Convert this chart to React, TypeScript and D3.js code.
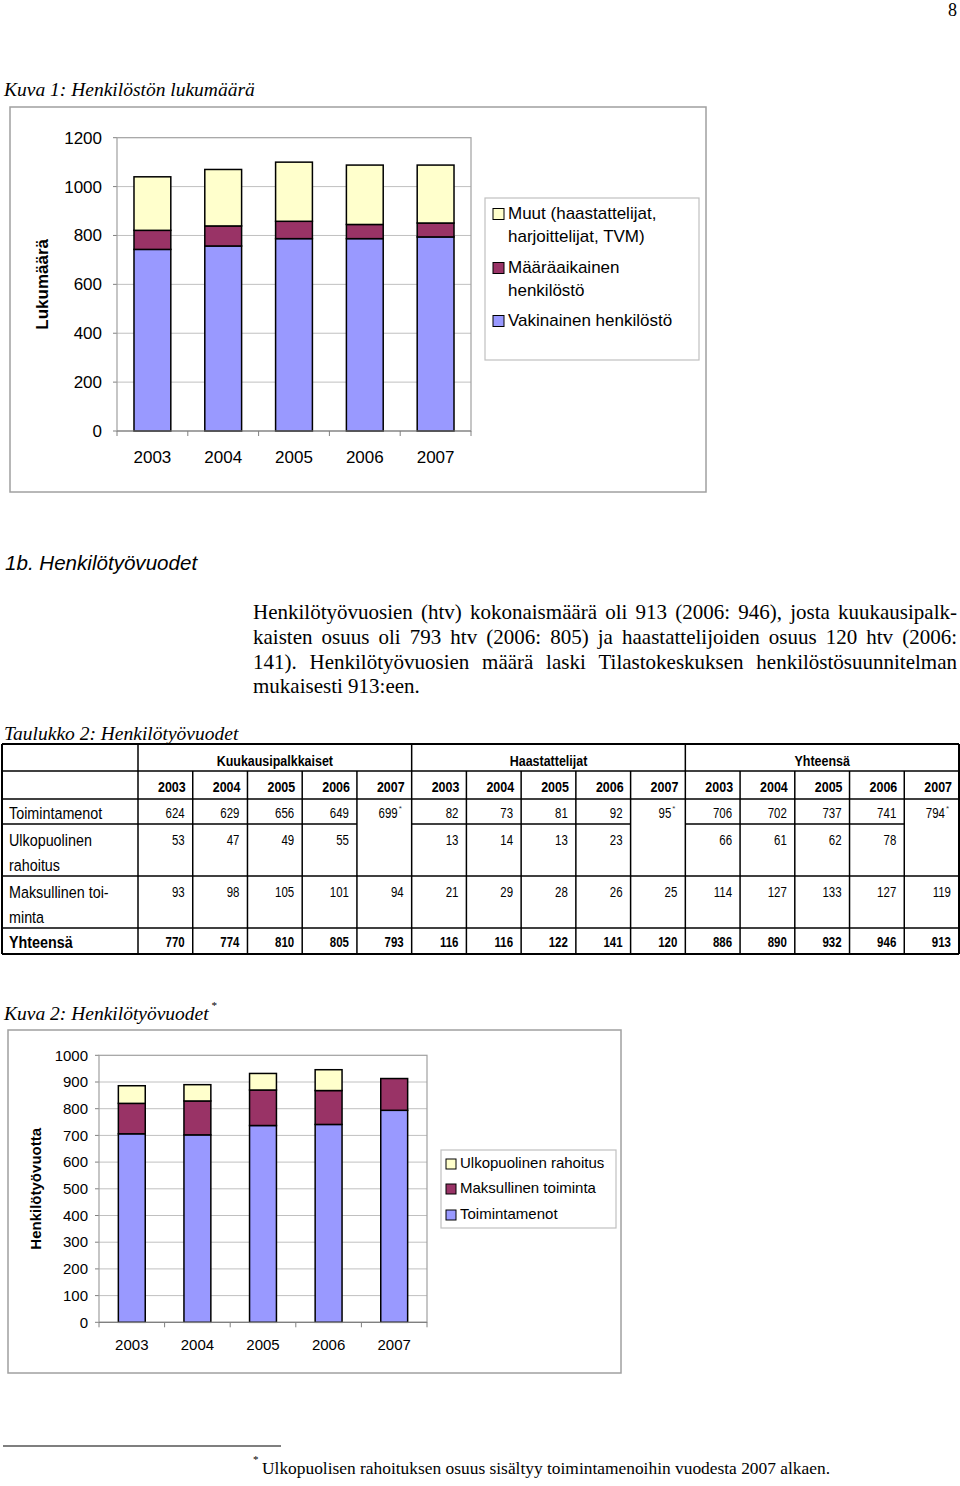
import React from "react";
import * as d3 from "d3";

const years = ["2003", "2004", "2005", "2006", "2007"];

// Kuva 1
const vakinainen = [743, 757, 787, 787, 794];
const maaraaikainen = [78, 82, 71, 58, 57];
const muut = [219, 231, 242, 243, 237];
const ticks1 = [0, 200, 400, 600, 800, 1000, 1200];

// Kuva 2 (from table)
const toimintamenot = [706, 702, 737, 741, 794];
const maksullinen = [114, 127, 133, 127, 119];
const ulkopuolinen = [66, 61, 62, 78, 0];
const ticks2 = [0, 100, 200, 300, 400, 500, 600, 700, 800, 900, 1000];

// Taulukko 2
const groupNames = ["Kuukausipalkkaiset", "Haastattelijat", "Yhteensä"];
const rowLabels = [["Toimintamenot"], ["Ulkopuolinen", "rahoitus"], ["Maksullinen toi-", "minta"], ["Yhteensä"]];
const kuukausi = [
  ["624", "629", "656", "649", "699*"],
  ["53", "47", "49", "55", ""],
  ["93", "98", "105", "101", "94"],
  ["770", "774", "810", "805", "793"],
];
const haast = [
  ["82", "73", "81", "92", "95*"],
  ["13", "14", "13", "23", ""],
  ["21", "29", "28", "26", "25"],
  ["116", "116", "122", "141", "120"],
];
const yhteensa = [
  ["706", "702", "737", "741", "794*"],
  ["66", "61", "62", "78", ""],
  ["114", "127", "133", "127", "119"],
  ["886", "890", "932", "946", "913"],
];

const paraLines = [
  "Henkilötyövuosien (htv) kokonaismäärä oli 913 (2006: 946), josta kuukausipalk-",
  "kaisten osuus oli 793 htv (2006: 805) ja haastattelijoiden osuus 120 htv (2006:",
  "141). Henkilötyövuosien määrä laski Tilastokeskuksen henkilöstösuunnitelman",
  "mukaisesti 913:een.",
];

const COL_BLUE = "#9999FF";
const COL_MAROON = "#993366";
const COL_YELLOW = "#FFFFCC";
const SANS = "'Liberation Sans', Arial, sans-serif";
const SERIF = "'Liberation Serif', 'Times New Roman', serif";

let _ctx: CanvasRenderingContext2D | null = null;
function measure(text: string, font: string): number {
  if (!_ctx) _ctx = document.createElement("canvas").getContext("2d");
  if (!_ctx) return text.length * 9;
  _ctx.font = font;
  return _ctx.measureText(text).width;
}

type ChartProps = {
  x0: number; x1: number; yTop: number; yBot: number; max: number; ticks: number[];
  series: number[][]; colors: string[]; padding: number;
  tickFont: number; tickRight: number; xLabelY: number; yLabel: string; yLabelX: number;
};

function StackChart(p: ChartProps) {
  const x = d3.scaleBand<string>().domain(years).range([p.x0, p.x1]).paddingInner(p.padding).paddingOuter(p.padding / 2);
  const y = d3.scaleLinear().domain([0, p.max]).range([p.yBot, p.yTop]);
  const rows = years.map((yr, i) => {
    const o: any = { year: yr };
    p.series.forEach((s, k) => (o["s" + k] = s[i]));
    return o;
  });
  const stack = d3.stack<any>().keys(p.series.map((_, k) => "s" + k))(rows);
  const step = x.step();
  return (
    <g>
      {p.ticks.map((t) => (
        <g key={t}>
          {t > 0 && t < p.max && <line x1={p.x0} x2={p.x1} y1={y(t)} y2={y(t)} stroke="#c0c0c0" strokeWidth={1} />}
          <line x1={p.x0 - 4} x2={p.x0} y1={y(t)} y2={y(t)} stroke="#808080" strokeWidth={1} />
          <text x={p.tickRight} y={y(t)} dy="0.35em" textAnchor="end" fontFamily={SANS} fontSize={p.tickFont} fill="#000">{t}</text>
        </g>
      ))}
      <rect x={p.x0} y={p.yTop} width={p.x1 - p.x0} height={p.yBot - p.yTop} fill="none" stroke="#a0a0a0" strokeWidth={1.2} />
      {stack.map((layer, k) => (
        <g key={k}>
          {layer.map((d, i) => (d[1] - d[0] > 0 ? (
            <rect key={i} x={x(years[i])!} width={x.bandwidth()} y={y(d[1])} height={y(d[0]) - y(d[1])}
              fill={p.colors[k]} stroke="#000" strokeWidth={1.5} />
          ) : null))}
        </g>
      ))}
      <line x1={p.x0} x2={p.x1} y1={p.yBot} y2={p.yBot} stroke="#808080" strokeWidth={1.2} />
      {years.map((yr, i) => (
        <g key={yr}>
          <line x1={p.x0 + step * i} x2={p.x0 + step * i} y1={p.yBot} y2={p.yBot + 5} stroke="#808080" />
          {i === years.length - 1 && <line x1={p.x1} x2={p.x1} y1={p.yBot} y2={p.yBot + 5} stroke="#808080" />}
          <text x={x(yr)! + x.bandwidth() / 2} y={p.xLabelY} dy="0.35em" textAnchor="middle" fontFamily={SANS} fontSize={p.tickFont}>{yr}</text>
        </g>
      ))}
      <text transform={`translate(${p.yLabelX},${(p.yTop + p.yBot) / 2}) rotate(-90)`} textAnchor="middle" dy="0.35em"
        fontFamily={SANS} fontWeight="bold" fontSize={p.tickFont}>{p.yLabel}</text>
    </g>
  );
}

function Legend({ x, y, w, h, items, swatch, textX, font }: { x: number; y: number; w: number; h: number; items: { color: string; lines: string[]; y: number }[]; swatch: number; textX: number; font: number }) {
  return (
    <g>
      <rect x={x} y={y} width={w} height={h} fill="#fff" stroke="#c0c0c0" strokeWidth={1.2} />
      {items.map((it, i) => (
        <g key={i}>
          <rect x={textX - swatch - 4} y={it.y - swatch / 2 + 1} width={swatch} height={swatch} fill={it.color} stroke="#000" strokeWidth={1} />
          {it.lines.map((ln, j) => (
            <text key={j} x={textX} y={it.y + j * 23} dy="0.35em" fontFamily={SANS} fontSize={font}>{ln}</text>
          ))}
        </g>
      ))}
    </g>
  );
}

function STxt({ x, y, sx, anchor, size, bold, children }: { x: number; y: number; sx: number; anchor?: string; size: number; bold?: boolean; children: React.ReactNode }) {
  return (
    <text transform={`translate(${x},${y}) scale(${sx},1)`} dy="0.35em" textAnchor={anchor || "start"}
      fontFamily={SANS} fontWeight={bold ? "bold" : "normal"} fontSize={size}>{children}</text>
  );
}

function Table() {
  const X0 = 2, X1 = 959, LAB = 138;
  const colW = (X1 - LAB) / 15;
  const rowsY = [744, 771, 799, 824, 876, 928, 954];
  const groups = [kuukausi, haast, yhteensa];
  const colX = (c: number) => LAB + c * colW;
  const els: React.ReactNode[] = [];
  const stroke = "#000";
  const H = (k: string, xa: number, xb: number, yy: number, w = 1.5) =>
    els.push(<line key={k} x1={xa} x2={xb} y1={yy} y2={yy} stroke={stroke} strokeWidth={w} />);
  H("h0", X0, X1, rowsY[0], 2);
  H("h1", X0, X1, rowsY[1]);
  H("h2", X0, X1, rowsY[2]);
  H("h3a", X0, colX(4), rowsY[3]);
  H("h3b", colX(5), colX(9), rowsY[3]);
  H("h3c", colX(10), colX(14), rowsY[3]);
  H("h4", X0, X1, rowsY[4]);
  H("h5", X0, X1, rowsY[5]);
  H("h6", X0, X1, rowsY[6], 2);
  els.push(<line key="v0" x1={X0} x2={X0} y1={rowsY[0]} y2={rowsY[6]} stroke={stroke} strokeWidth={2} />);
  els.push(<line key="vE" x1={X1} x2={X1} y1={rowsY[0]} y2={rowsY[6]} stroke={stroke} strokeWidth={2} />);
  for (let c = 0; c < 15; c++) {
    const x = colX(c);
    const full = c % 5 === 0;
    els.push(<line key={"v" + c} x1={x} x2={x} y1={full ? rowsY[0] : rowsY[1]} y2={rowsY[6]} stroke={stroke} strokeWidth={1.5} />);
  }
  groupNames.forEach((g, gi) => {
    els.push(<STxt key={"g" + gi} x={colX(gi * 5) + colW * 2.5} y={761} sx={0.89} anchor="middle" size={14} bold>{g}</STxt>);
    years.forEach((yr, yi) => {
      els.push(<STxt key={"y" + gi + yi} x={colX(gi * 5 + yi + 1) - 7} y={787} sx={0.89} anchor="end" size={14} bold>{yr}</STxt>);
    });
  });
  const textY = [813, 840, 892, 942];
  rowLabels.forEach((lab, ri) => {
    lab.forEach((ln, j) => {
      els.push(<STxt key={"l" + ri + j} x={9} y={textY[ri] + j * 25} sx={0.88} size={16.3} bold={ri === 3}>{ln}</STxt>);
    });
    groups.forEach((gv, gi) => {
      gv[ri].forEach((v, yi) => {
        if (!v) return;
        const star = v.endsWith("*");
        const num = star ? v.slice(0, -1) : v;
        const xr = colX(gi * 5 + yi + 1) - (star ? 14 : 8);
        els.push(<STxt key={"c" + ri + gi + yi} x={xr} y={textY[ri]} sx={0.75} anchor="end" size={15.3} bold={ri === 3}>{num}</STxt>);
        if (star) els.push(<text key={"s" + ri + gi + yi} x={xr + 1} y={textY[ri] - 2} fontFamily={SANS} fontSize={8} fill="#333">*</text>);
      });
    });
  });
  return <g>{els}</g>;
}

function Paragraph() {
  const font = "21px 'Liberation Serif'";
  const left = 253, width = 704;
  return (
    <g>
      {paraLines.map((ln, i) => {
        const y = 612 + i * 24.6;
        if (i === paraLines.length - 1) {
          return <text key={i} x={left} y={y} dy="0.35em" fontFamily={SERIF} fontSize={21}>{ln}</text>;
        }
        const words = ln.split(" ");
        const ws = words.map((w) => measure(w, font));
        const total = ws.reduce((a, b) => a + b, 0);
        const gap = (width - total) / (words.length - 1);
        let cx = left;
        return (
          <g key={i}>
            {words.map((w, j) => {
              const el = <text key={j} x={cx} y={y} dy="0.35em" fontFamily={SERIF} fontSize={21}>{w}</text>;
              cx += ws[j] + gap;
              return el;
            })}
          </g>
        );
      })}
    </g>
  );
}

export default function App() {
  return (
    <svg width={960} height={1486} style={{ position: "absolute", left: 0, top: 0, background: "#fff" }}>
      <rect width={960} height={1486} fill="#fff" />
      <text x={948} y={10} dy="0.35em" fontFamily={SERIF} fontSize={18}>8</text>
      <text x={4} y={89} dy="0.35em" fontFamily={SERIF} fontStyle="italic" fontSize={19.5}>Kuva 1: Henkilöstön lukumäärä</text>

      <rect x={10} y={107} width={696} height={385} fill="#fff" stroke="#a0a0a0" strokeWidth={1.5} />
      <StackChart x0={117} x1={471} yTop={137.7} yBot={431} max={1200} ticks={ticks1}
        series={[vakinainen, maaraaikainen, muut]} colors={[COL_BLUE, COL_MAROON, COL_YELLOW]} padding={0.48}
        tickFont={17} tickRight={102} xLabelY={457} yLabel="Lukumäärä" yLabelX={42} />
      <Legend x={485} y={198} w={214} h={162} swatch={11} textX={508} font={17}
        items={[
          { color: COL_YELLOW, lines: ["Muut (haastattelijat,", "harjoittelijat, TVM)"], y: 213 },
          { color: COL_MAROON, lines: ["Määräaikainen", "henkilöstö"], y: 267 },
          { color: COL_BLUE, lines: ["Vakinainen henkilöstö"], y: 320 },
        ]} />

      <text transform="translate(5,563) scale(0.98,1)" dy="0.35em" fontFamily={SANS} fontStyle="italic" fontSize={21}>1b. Henkilötyövuodet</text>
      <Paragraph />
      <text x={4} y={733} dy="0.35em" fontFamily={SERIF} fontStyle="italic" fontSize={19.5}>Taulukko 2: Henkilötyövuodet</text>

      <Table />

      <text x={4} y={1013} dy="0.35em" fontFamily={SERIF} fontStyle="italic" fontSize={19.5}>Kuva 2: Henkilötyövuodet</text>
      <text x={211} y={1009} fontFamily={SERIF} fontStyle="italic" fontSize={11}>*</text>

      <rect x={8} y={1030} width={613} height={343} fill="#fff" stroke="#a0a0a0" strokeWidth={1.5} />
      <StackChart x0={99} x1={427} yTop={1055.3} yBot={1322.3} max={1000} ticks={ticks2}
        series={[toimintamenot, maksullinen, ulkopuolinen]} colors={[COL_BLUE, COL_MAROON, COL_YELLOW]} padding={0.59}
        tickFont={15} tickRight={88} xLabelY={1345} yLabel="Henkilötyövuotta" yLabelX={36} />
      <Legend x={441} y={1150} w={175} h={78} swatch={10} textX={460} font={15}
        items={[
          { color: COL_YELLOW, lines: ["Ulkopuolinen rahoitus"], y: 1163 },
          { color: COL_MAROON, lines: ["Maksullinen toiminta"], y: 1188 },
          { color: COL_BLUE, lines: ["Toimintamenot"], y: 1214 },
        ]} />

      <line x1={3} x2={281} y1={1446} y2={1446} stroke="#000" strokeWidth={1.2} />
      <text x={253} y={1463} fontFamily={SERIF} fontSize={11}>*</text>
      <text x={262} y={1468} dy="0.35em" fontFamily={SERIF} fontSize={17.4}>Ulkopuolisen rahoituksen osuus sisältyy toimintamenoihin vuodesta 2007 alkaen.</text>
    </svg>
  );
}
